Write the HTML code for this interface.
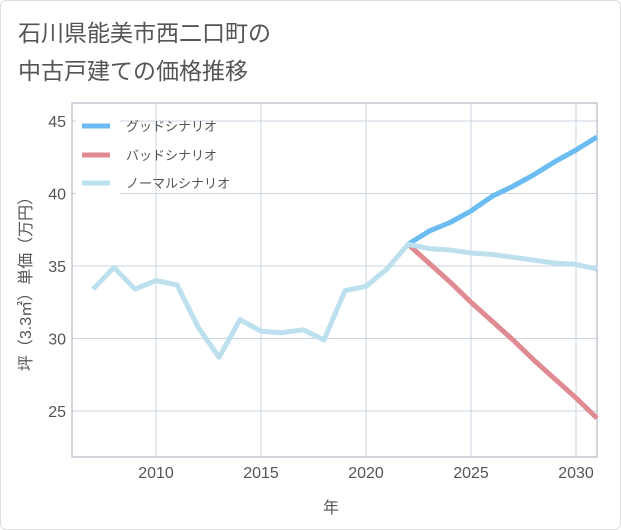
<!DOCTYPE html>
<html><head><meta charset="utf-8">
<style>
html,body{margin:0;padding:0;background:#fff;}
body{width:621px;height:530px;overflow:hidden;font-family:"Liberation Sans","Noto Sans CJK JP",sans-serif;}
#frame{position:absolute;left:0;top:0;width:619px;height:528px;border:1px solid #ddd;border-radius:6px;}
</style></head><body>
<div id="frame"></div>
<svg id="chart" width="621" height="530" style="position:absolute;left:0;top:0">
<text x="18" y="41" font-size="23" fill="#555" font-family="Liberation Sans, Noto Sans CJK JP, sans-serif">石川県能美市西二口町の</text>
<text x="18" y="79" font-size="23" fill="#555" font-family="Liberation Sans, Noto Sans CJK JP, sans-serif">中古戸建ての価格推移</text>
<g id="grid"></g>
<rect x="72" y="103" width="525" height="354" fill="none" stroke="#aab" stroke-width="1"/>
<g id="series"></g>
<g id="legend"></g>
<text x="331" y="513" font-size="16" fill="#555" text-anchor="middle" font-family="Liberation Sans, Noto Sans CJK JP, sans-serif">年</text>
<text transform="translate(31,280) rotate(-90)" font-size="16" fill="#555" text-anchor="middle" font-family="Liberation Sans, Noto Sans CJK JP, sans-serif">坪（3.3㎡）単価（万円）</text>
</svg>
<script>
const years=[2007,2008,2009,2010,2011,2012,2013,2014,2015,2016,2017,2018,2019,2020,2021,2022,2023,2024,2025,2026,2027,2028,2029,2030,2031];
const normalValues=[33.4,34.9,33.4,34.0,33.7,30.8,28.7,31.3,30.5,30.4,30.6,29.9,33.3,33.6,34.8,36.5,36.2,36.1,35.9,35.8,35.6,35.4,35.2,35.1,34.8];
const forecastYears=[2022,2023,2024,2025,2026,2027,2028,2029,2030,2031];
const goodValues=[36.5,37.4,38.0,38.8,39.8,40.5,41.3,42.2,43.0,43.9];
const badValues=[36.5,35.2,33.9,32.5,31.2,29.9,28.5,27.2,25.9,24.5];
const xTicks=[2010,2015,2020,2025,2030];
const yTicks=[25,30,35,40,45];
const NS="http://www.w3.org/2000/svg";
function xs(y){return 72+(y-2006)*21;}
function ys(v){return 121+(45-v)*14.5;}
const grid=document.getElementById('grid'),svg=document.getElementById('chart');
function mk(t,a){const e=document.createElementNS(NS,t);for(const k in a)e.setAttribute(k,a[k]);return e;}
xTicks.forEach(t=>{
  const l=mk('line',{x1:xs(t),x2:xs(t),y1:103,y2:457,stroke:'#c8d6e2','stroke-width':1});
  
  
  grid.appendChild(l);
  const tx=mk('text',{x:xs(t),y:478,'font-size':16,fill:'#555','text-anchor':'middle'});
  
  
  tx.textContent=t;grid.appendChild(tx);
});
yTicks.forEach(t=>{
  const l=mk('line',{x1:72,x2:597,y1:ys(t),y2:ys(t),stroke:'#c8d6e2','stroke-width':1});
  
  
  grid.appendChild(l);
  const tx=mk('text',{x:66,y:ys(t)+6,'font-size':16,fill:'#555','text-anchor':'end'});
  
  
  tx.textContent=t;grid.appendChild(tx);
});
const ser=document.getElementById('series');
function line(xv,yv,color,name){
  const p=mk('polyline',{points:xv.map((x,i)=>xs(x)+','+ys(yv[i])).join(' '),fill:'none',stroke:color,'stroke-width':5,'stroke-linejoin':'round'});
  
  
  ser.appendChild(p);
}
line(forecastYears,badValues,'#e08a92','bad-scenario-line');
line(forecastYears,goodValues,'#6bbcf2','good-scenario-line');
line(years,normalValues,'#bde0ef','normal-scenario-line');
const leg=document.getElementById('legend');
const bg=mk('rect',{x:76,y:110,width:44,height:85,fill:'#fff'});
leg.appendChild(bg);
[['グッドシナリオ','#6bbcf2',126],['バッドシナリオ','#e08a92',155],['ノーマルシナリオ','#bde0ef',183]].forEach((d,i)=>{
  const g=mk('g',{});
  
  
  g.appendChild(mk('line',{x1:82,x2:110,y1:d[2],y2:d[2],stroke:d[1],'stroke-width':5}));
  const t=mk('text',{x:126,y:d[2]+5,'font-size':13,fill:'#555'});
  t.textContent=d[0];g.appendChild(t);
  leg.appendChild(g);
});
</script>
</body></html>
